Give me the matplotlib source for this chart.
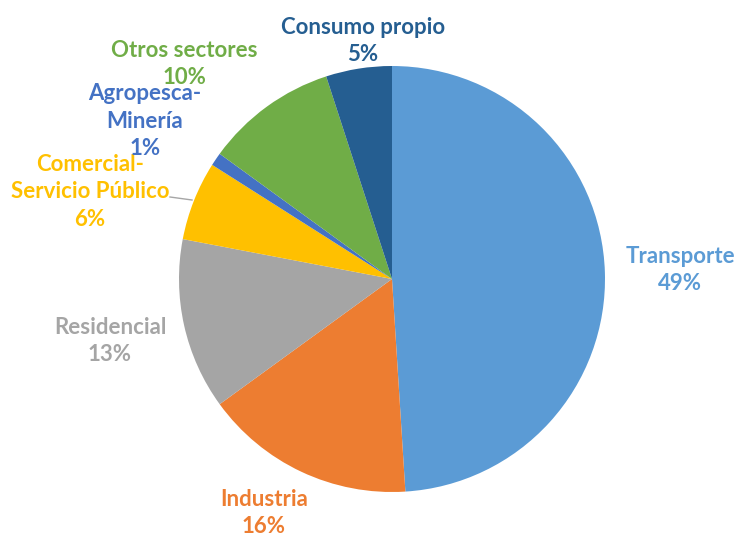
import matplotlib.pyplot as plt

plt.rcParams['font.family'] = ['Lato', 'DejaVu Sans']

sectors = ["Transporte", "Industria", "Residencial", "Comercial-\nServicio Público",
           "Agropesca-\nMinería", "Otros sectores", "Consumo propio"]
shares = [49, 16, 13, 6, 1, 10, 5]
colors = ["#5B9BD5", "#ED7D31", "#A5A5A5", "#FFC000", "#4472C4", "#70AD47", "#255E91"]

# label centres in pixel coords (x from left, y from top)
label_pos = [(680, 270), (264, 513), (110, 341), (90, 192), (145, 121), (184, 64), (363, 41)]

W, H = 736, 538
fig = plt.figure(figsize=(W / 100, H / 100), dpi=100)
ax = fig.add_axes([0, 0, 1, 1])

ax.pie(shares, colors=colors, startangle=90, counterclock=False,
       center=(392, H - 279), radius=213,
       wedgeprops=dict(linewidth=0))

# pie() resets the limits, so set them afterwards
ax.set_xlim(0, W)
ax.set_ylim(0, H)
ax.set_aspect('equal')
ax.axis('off')

for name, val, col, (x, y) in zip(sectors, shares, colors, label_pos):
    ax.text(x, H - y, f"{name}\n{val}%", color=col, fontsize=16, fontweight='bold',
            ha='center', va='center', multialignment='center', linespacing=1.37)

# leader line for Comercial-Servicio Público
ax.plot([170, 192], [H - 197, H - 200], color='#A6A6A6', linewidth=1)

fig.savefig('out.png', dpi=100)
